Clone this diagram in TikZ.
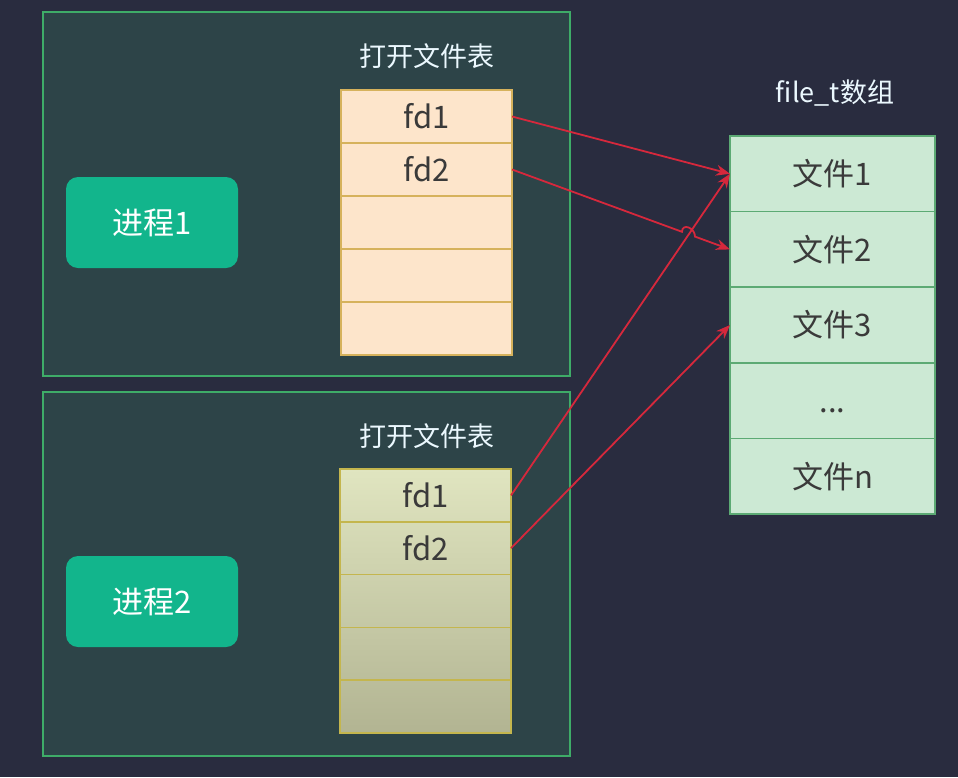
\documentclass[tikz,border=0pt]{standalone}
\usepackage{fontspec}
\setmainfont{Noto Sans CJK SC}
\usetikzlibrary{arrows.meta}

\definecolor{bgnavy}{RGB}{41,44,63}
\definecolor{panelteal}{RGB}{45,68,72}
\definecolor{panelline}{RGB}{62,172,104}
\definecolor{procgreen}{RGB}{18,181,140}
\definecolor{tabpeach}{RGB}{253,229,203}
\definecolor{tabpeachline}{RGB}{214,178,92}
\definecolor{tabolivetop}{RGB}{224,229,192}
\definecolor{tabolivebot}{RGB}{178,180,146}
\definecolor{taboliveline}{RGB}{196,182,78}
\definecolor{filegreen}{RGB}{204,233,212}
\definecolor{fileline}{RGB}{92,170,116}
\definecolor{celltext}{RGB}{58,58,58}
\definecolor{arrowred}{RGB}{214,40,60}

\begin{document}
\begin{tikzpicture}[x=1pt,y=-1pt,
	cellpeach/.style={draw=tabpeachline,fill=tabpeach,line width=1.5pt,minimum width=171pt,minimum height=53pt,inner sep=0pt,outer sep=0pt,text=celltext,font=\fontsize{31}{36}\selectfont},
	cellolive/.style={draw=taboliveline,line width=1.5pt,minimum width=171pt,minimum height=52.8pt,inner sep=0pt,outer sep=0pt,text=celltext,font=\fontsize{31}{36}\selectfont},
	cellfile/.style={draw=fileline,fill=filegreen,line width=1.5pt,minimum width=205pt,minimum height=75.6pt,inner sep=0pt,outer sep=0pt,text=celltext,font=\fontsize{31}{36}\selectfont},
	procbox/.style={fill=procgreen,rounded corners=12pt,minimum width=172pt,minimum height=91pt,inner sep=0pt,text=white,font=\fontsize{31}{36}\selectfont},
	caption/.style={text=white!92!cyan,font=\fontsize{27}{32}\selectfont},
	fdarrow/.style={draw=arrowred,line width=1.8pt,-{Stealth[length=14pt,width=11pt]}}]
		% background and panels
		\path[fill=bgnavy] (0,0) rectangle (958,777);
		\path[draw=panelline,fill=panelteal,line width=1.5pt] (43,12) rectangle (570,376);
		\path[draw=panelline,fill=panelteal,line width=1.5pt] (43,392) rectangle (570,756);
		
		% processes
		\node[procbox] (proc1) at (152,222.5) {进程1};
		\node[procbox] (proc2) at (152,601.5) {进程2};
		
		% open file table of process 1
		\node[caption] (title1) at (427,56) {打开文件表};
		\node[cellpeach] (p1fd1) at (426.5,116.5) {fd1};
		\node[cellpeach] (p1fd2) at (426.5,169.5) {fd2};
		\node[cellpeach] (p1r3) at (426.5,222.5) {};
		\node[cellpeach] (p1r4) at (426.5,275.5) {};
		\node[cellpeach] (p1r5) at (426.5,328.5) {};
		
		% open file table of process 2
		\node[caption] (title2) at (427,436) {打开文件表};
		\path[top color=tabolivetop,bottom color=tabolivebot] (340,469) rectangle (511,733);
		\node[cellolive] (p2fd1) at (425.5,495.4) {fd1};
		\node[cellolive] (p2fd2) at (425.5,548.2) {fd2};
		\node[cellolive] (p2r3) at (425.5,601) {};
		\node[cellolive] (p2r4) at (425.5,653.8) {};
		\node[cellolive] (p2r5) at (425.5,706.6) {};
		
		% file_t array
		\node[caption] (title3) at (835,93) {file\_t数组};
		\node[cellfile] (f1) at (832.5,173.8) {文件1};
		\node[cellfile] (f2) at (832.5,249.4) {文件2};
		\node[cellfile] (f3) at (832.5,325) {文件3};
		\node[cellfile] (fdots) at (832.5,400.6) {\vphantom{文件}...};
		\node[cellfile] (fn) at (832.5,476.2) {文件n};
		
		% pointers
		\coordinate (jumpL) at (682,231.8);
		\coordinate (jumpR) at (695,236.6);
		\draw[fdarrow] (p1fd1.east) -- (f1.west);
		\draw[fdarrow] (p2fd1.east) -- (f1.west);
		\draw[fdarrow] (p2fd2.east) -- (f3.west);
		\draw[fdarrow] (p1fd2.east) -- (jumpL) .. controls +(0,-9) and +(0,-9) .. (jumpR) -- (f2.west);
	\end{tikzpicture}
\end{document}
